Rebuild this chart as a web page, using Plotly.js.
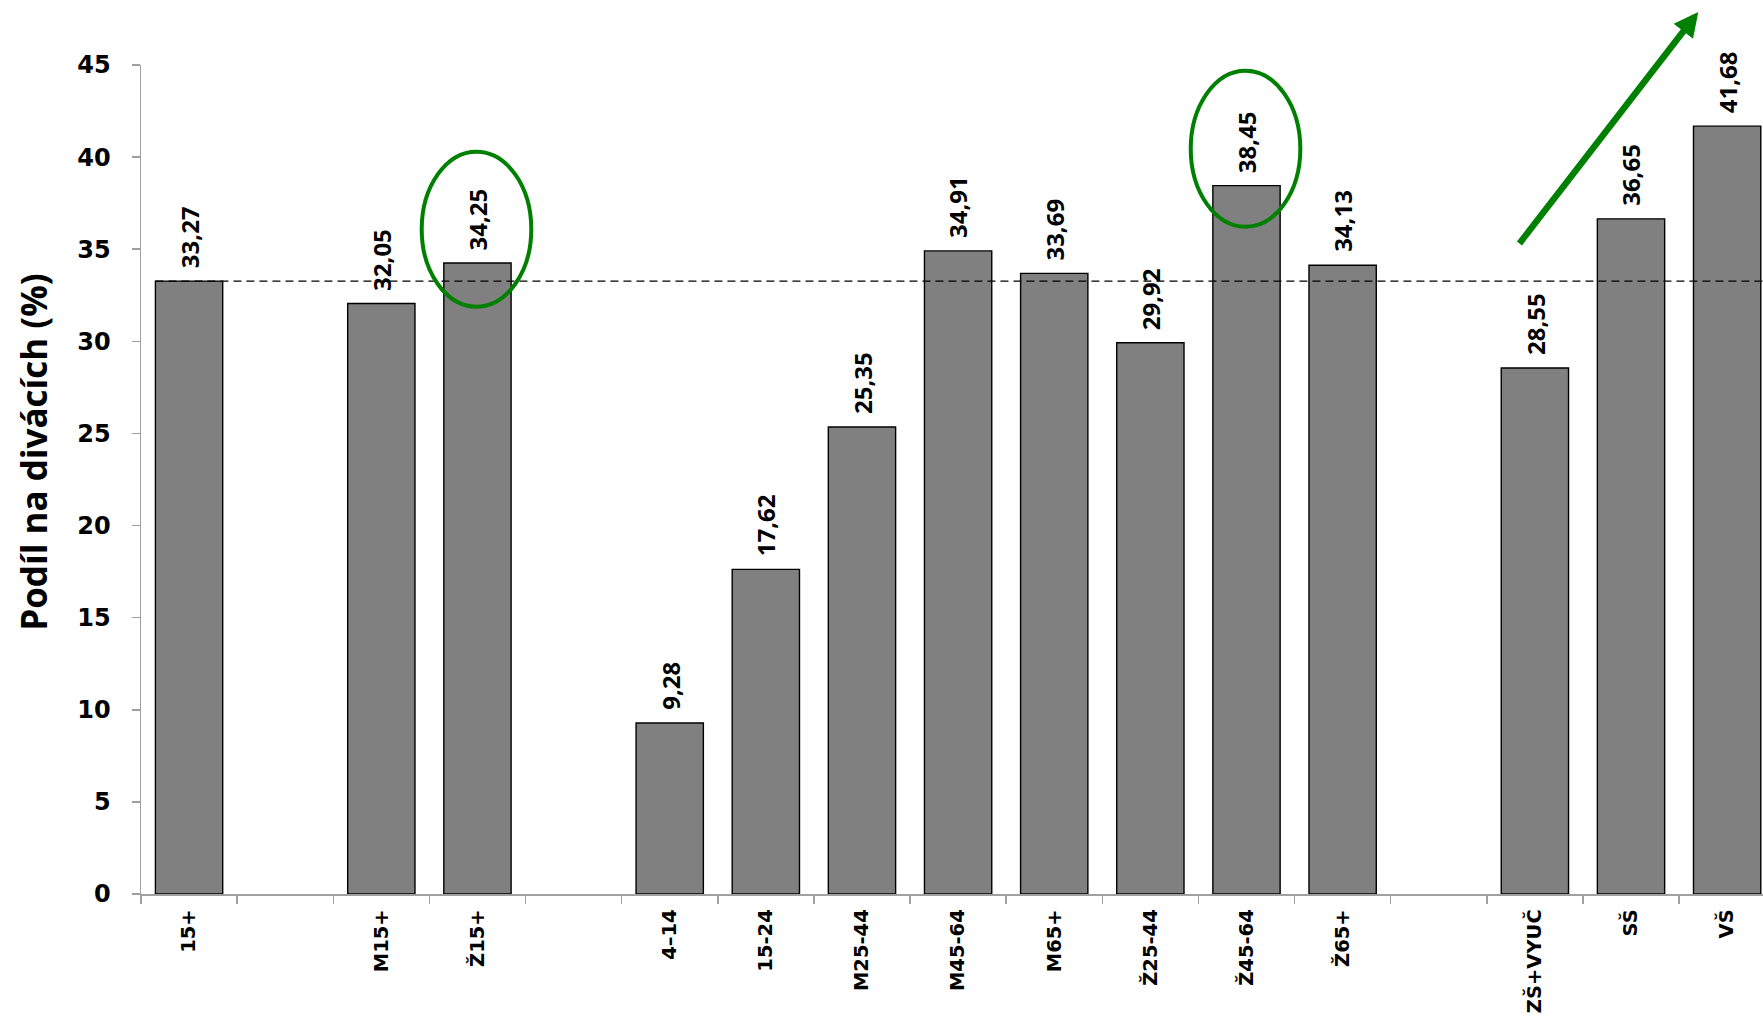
<!DOCTYPE html>
<html>
<head>
<meta charset="utf-8">
<script src="https://cdn.plot.ly/plotly-3.0.1.min.js"></script>
<style>html,body{margin:0;padding:0;background:#fff;}#chart{width:1763px;height:1017px;}</style>
</head>
<body>
<div id="chart"></div>
<script>
// categories (blank strings are the empty gaps between groups)
const categories = ["15+", " ", "M15+", "Ž15+", "  ", "4–14", "15-24", "M25-44", "M45-64", "M65+", "Ž25-44", "Ž45-64", "Ž65+", "   ", "ZŠ+VYUČ", "SŠ", "VŠ"];
const shares = [33.27, null, 32.05, 34.25, null, 9.28, 17.62, 25.35, 34.91, 33.69, 29.92, 38.45, 34.13, null, 28.55, 36.65, 41.68];
const referenceValue = shares[0];            // dashed line = 15+ average
const highlighted = ["Ž15+", "Ž45-64"];      // circled labels
const yTitle = "Podíl na divácích (%)";

const fmt = v => v.toFixed(2).replace('.', ',');

const trace = {
  type: 'bar',
  x: categories,
  y: shares,
  width: 0.7,
  marker: {color: '#808080', line: {color: '#000000', width: 1.4}},
  hoverinfo: 'x+y'
};

const anns = [];
categories.forEach((c, i) => {
  if (shares[i] === null) return;
  anns.push({
    x: c, y: shares[i], xref: 'x', yref: 'y',
    text: fmt(shares[i]), showarrow: false, textangle: -90,
    xanchor: 'center', yanchor: 'bottom', yshift: 11,
    font: {family: 'Open Sans, sans-serif', size: 24, color: '#000', weight: 'bold'}
  });
});

// y axis title (placed as in the original, slightly above the plot centre)
anns.push({
  xref: 'paper', yref: 'paper', x: -0.0668, y: 0.533,
  text: yTitle, showarrow: false, textangle: -90,
  xanchor: 'center', yanchor: 'middle',
  font: {family: 'Open Sans, sans-serif', size: 35, color: '#000', weight: 'bold'}
});

// green upward arrow
anns.push({
  xref: 'paper', yref: 'paper', x: 0.9601, y: 1.064,
  ax: -180, ay: 233, text: '', showarrow: true,
  arrowhead: 2, arrowsize: 0.75, arrowwidth: 6.5, arrowcolor: '#008000', standoff: 0
});

const ellipseFor = (cat, y0, y1) => {
  const i = categories.indexOf(cat);
  return {type: 'circle', xref: 'x', yref: 'y', x0: i - 0.58, x1: i + 0.56, y0: y0, y1: y1,
          line: {color: '#008000', width: 4}, fillcolor: 'rgba(0,0,0,0)', layer: 'above'};
};

const shapes = [
  {type: 'line', xref: 'x', yref: 'y', x0: -0.35, x1: 16.5, y0: referenceValue, y1: referenceValue,
   line: {color: '#000', width: 1.3, dash: '8px,5px'}, layer: 'above'},
  ellipseFor(highlighted[0], 31.88, 40.29),
  ellipseFor(highlighted[1], 36.22, 44.69)
];

const layout = {
  width: 1763, height: 1017,
  margin: {l: 141, r: 0, t: 65, b: 123, pad: 0},
  paper_bgcolor: '#fff', plot_bgcolor: '#fff',
  showlegend: false,
  bargap: 0.3,
  xaxis: {
    type: 'category', categoryorder: 'array', categoryarray: categories,
    range: [-0.5, 16.373],
    showline: true, linecolor: '#a0a0a0', linewidth: 1.5,
    ticks: 'outside', tickson: 'boundaries', ticklen: 8, tickcolor: '#a0a0a0', tickwidth: 1.5,
    tickangle: -90, ticklabelstandoff: 6,
    tickfont: {family: 'DejaVu Sans, sans-serif', size: 19.5, color: '#000', weight: 'bold'},
    showgrid: false, zeroline: false, fixedrange: true
  },
  yaxis: {
    range: [0, 45], dtick: 5, tick0: 0,
    showline: true, linecolor: '#a0a0a0', linewidth: 1.5,
    ticks: 'outside', ticklen: 8, tickcolor: '#a0a0a0', tickwidth: 1.5,
    ticklabelstandoff: 16,
    tickfont: {family: 'DejaVu Sans, sans-serif', size: 24, color: '#000', weight: 'bold'},
    showgrid: false, zeroline: false, fixedrange: true
  },
  annotations: anns,
  shapes: shapes
};

Plotly.newPlot('chart', [trace], layout, {displayModeBar: false, staticPlot: true});
</script>
</body>
</html>
